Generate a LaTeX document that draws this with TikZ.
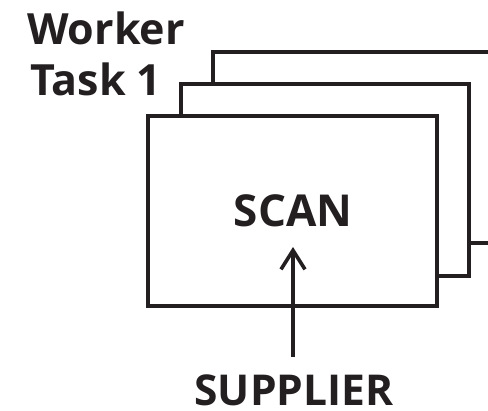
\documentclass[tikz,border=0pt]{standalone}
\usepackage{fontspec}
\setmainfont{Open Sans}
\usetikzlibrary{arrows.meta}
\definecolor{ink}{HTML}{231F20}
\tikzset{
  card/.style={draw=ink, fill=white, line width=3.6pt, line join=miter},
  label/.style={text=ink, font=\bfseries, inner sep=0pt, anchor=base west},
}
\begin{document}
\begin{tikzpicture}[x=1pt,y=-1pt]
\useasboundingbox (0,0) rectangle (488,411);
\begin{scope}
\clip (0,0) rectangle (488,411);
\path[card] (213,52) rectangle (501,243);
\path[card] (181,84) rectangle (469,276);
\path[card] (148,116) rectangle (437,306);
\end{scope}
\node[label, font=\fontsize{43}{43}\selectfont\bfseries] (w) at (27,45) {Worker};
\node[label, font=\fontsize{43}{43}\selectfont\bfseries] (t) at (30,96) {Task 1};
\node[label, font=\fontsize{44}{44}\selectfont\bfseries, anchor=base] (scan) at (293,227) {SCAN};
\node[label, font=\fontsize{42.5}{42.5}\selectfont\bfseries, anchor=base, text depth=0pt] (sup) at (294,406) {SUPPLIER};
\coordinate (tip) at (293,247);
\coordinate (tail) at (293,357);
\draw[ink, line width=3.6pt, -{Straight Barb[length=19pt,width=24pt,line width=3.6pt]}] (tail) -- (tip);
\end{tikzpicture}
\end{document}
